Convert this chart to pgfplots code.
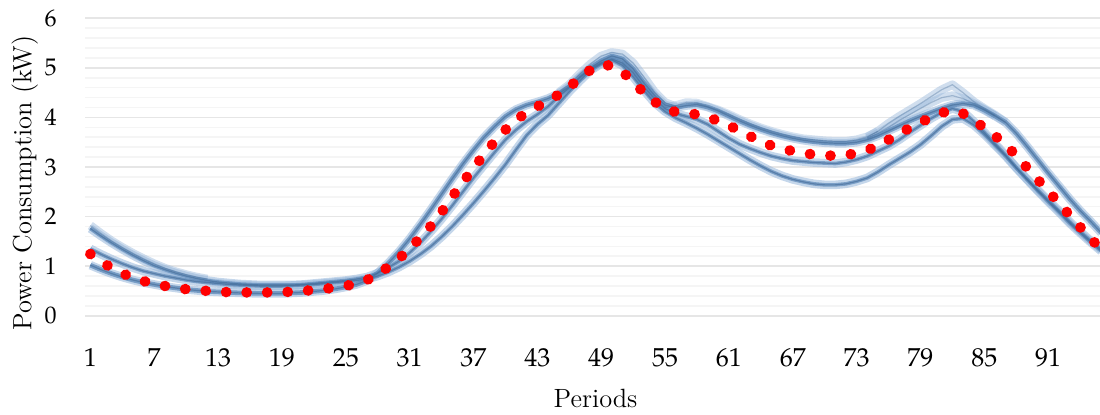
\documentclass[border=0pt]{standalone}
\usepackage{mathpazo}
\usepackage{pgfplots}
\usepackage{pgfplotstable}
\pgfplotsset{compat=1.18}
\usetikzlibrary{calc}
\definecolor{bandlight}{RGB}{150,182,218}
\definecolor{bandmid}{RGB}{92,136,184}
\definecolor{banddark}{RGB}{66,106,150}
\definecolor{gridmaj}{RGB}{214,214,214}
\definecolor{gridmin}{RGB}{238,238,238}

\pgfplotstableread{
p b1 b2 b3 red
1 1.02 1.76 1.35 1.245
2 0.93 1.61 1.24 1.10
3 0.85 1.47 1.14 0.96
4 0.78 1.34 1.05 0.855
5 0.72 1.22 0.97 0.77
6 0.67 1.11 0.90 0.70
7 0.63 1.01 0.85 0.64
8 0.59 0.93 0.80 0.60
9 0.56 0.86 0.76 0.565
10 0.53 0.80 0.72 0.535
11 0.51 0.75 0.69 0.515
12 0.49 0.71 0.67 0.50
13 0.48 0.68 0.65 0.485
14 0.47 0.66 0.63 0.475
15 0.46 0.64 0.62 0.47
16 0.455 0.63 0.61 0.47
17 0.45 0.62 0.60 0.47
18 0.45 0.62 0.60 0.47
19 0.45 0.62 0.60 0.475
20 0.46 0.62 0.61 0.485
21 0.47 0.63 0.62 0.50
22 0.49 0.65 0.63 0.52
23 0.51 0.67 0.65 0.54
24 0.54 0.69 0.67 0.57
25 0.58 0.71 0.69 0.60
26 0.63 0.74 0.71 0.65
27 0.71 0.78 0.74 0.72
28 0.86 0.86 0.80 0.84
29 1.06 0.97 0.88 0.985
30 1.29 1.10 0.98 1.15
31 1.55 1.27 1.10 1.35
32 1.84 1.47 1.24 1.575
33 2.14 1.70 1.40 1.81
34 2.45 1.95 1.59 2.09
35 2.76 2.22 1.80 2.40
36 3.06 2.50 2.03 2.69
37 3.34 2.78 2.27 2.98
38 3.60 3.04 2.52 3.25
39 3.82 3.30 2.78 3.52
40 4.02 3.55 3.05 3.75
41 4.16 3.75 3.35 3.95
42 4.25 3.92 3.64 4.10
43 4.31 4.06 3.86 4.22
44 4.38 4.22 4.04 4.33
45 4.48 4.42 4.28 4.46
46 4.62 4.60 4.52 4.61
47 4.82 4.80 4.74 4.80
48 5.00 4.98 4.95 4.96
49 5.14 5.10 5.08 5.07
50 5.24 5.18 5.16 5.04
51 5.18 5.10 5.05 4.92
52 4.98 4.90 4.82 4.72
53 4.70 4.62 4.55 4.50
54 4.45 4.38 4.30 4.32
55 4.25 4.18 4.12 4.18
56 4.20 4.08 3.99 4.11
57 4.24 4.02 3.89 4.09
58 4.26 3.96 3.78 4.06
59 4.21 3.86 3.66 4.01
60 4.13 3.72 3.53 3.93
61 4.03 3.58 3.40 3.84
62 3.93 3.46 3.27 3.73
63 3.84 3.37 3.14 3.62
64 3.76 3.29 3.02 3.52
65 3.69 3.22 2.91 3.43
66 3.63 3.17 2.82 3.37
67 3.58 3.13 2.75 3.32
68 3.54 3.11 2.70 3.28
69 3.51 3.09 2.66 3.25
70 3.49 3.08 2.64 3.23
71 3.48 3.07 2.64 3.23
72 3.48 3.10 2.66 3.24
73 3.50 3.15 2.71 3.28
74 3.55 3.22 2.78 3.34
75 3.63 3.32 2.90 3.43
76 3.73 3.42 3.04 3.55
77 3.83 3.55 3.17 3.67
78 3.93 3.70 3.30 3.79
79 4.02 3.84 3.45 3.90
80 4.10 3.98 3.63 4.00
81 4.18 4.10 3.82 4.09
82 4.25 4.18 3.96 4.15
83 4.28 4.12 3.98 4.08
84 4.25 3.92 3.85 3.93
85 4.15 3.70 3.66 3.80
86 4.03 3.47 3.44 3.63
87 3.90 3.24 3.22 3.45
88 3.68 2.99 2.98 3.23
89 3.42 2.76 2.75 2.99
90 3.15 2.54 2.52 2.75
91 2.88 2.33 2.30 2.51
92 2.62 2.12 2.09 2.28
93 2.36 1.90 1.87 2.03
94 2.12 1.70 1.67 1.79
95 1.90 1.51 1.48 1.56
96 1.67 1.33 1.30 1.33
}\data

\pgfplotstableread{
p y
74 3.60
75 3.72
76 3.88
77 4.02
78 4.15
79 4.28
80 4.42
81 4.56
82 4.66
83 4.50
84 4.32
85 4.18
86 4.05
87 3.90
}\highA

\pgfplotstableread{
p y
74 3.57
75 3.68
76 3.80
77 3.94
78 4.06
79 4.18
80 4.30
81 4.40
82 4.44
83 4.38
84 4.28
85 4.16
86 4.03
}\highB

\pgfplotstableread{
p y
45 4.50
46 4.66
47 4.88
48 5.08
49 5.24
50 5.31
51 5.28
52 5.10
53 4.82
54 4.52
55 4.30
56 4.22
}\peakA

\pgfplotstableread{
p y
1 1.82
2 1.66
3 1.51
4 1.38
5 1.26
6 1.15
7 1.05
8 0.96
9 0.89
10 0.83
11 0.78
12 0.74
}\startA

\pgfplotstableread{
p y
55 4.20
56 4.24
57 4.30
58 4.29
59 4.22
60 4.15
61 4.06
62 3.96
63 3.87
64 3.79
65 3.72
66 3.66
67 3.61
68 3.57
69 3.55
70 3.53
71 3.52
72 3.52
73 3.55
74 3.61
75 3.72
}\midA

\begin{document}
\begin{tikzpicture}
\pgfplotsset{
  band/.style={line width=4.3pt, color=bandlight, opacity=0.55, line join=round},
  core/.style={line width=1.8pt, color=bandmid, opacity=0.7, line join=round},
  thin/.style={line width=0.6pt, color=banddark, opacity=0.6, line join=round},
}
\begin{axis}[
  scale only axis,
  width=507.5pt, height=148.7pt,
  xmin=0.5, xmax=95.87, ymin=0, ymax=6,
  xtick={1,7,...,91},
  ytick={0,1,...,6},
  minor y tick num=4,
  ymajorgrids, yminorgrids,
  major grid style={draw=gridmaj, line width=0.9pt},
  minor grid style={draw=gridmin, line width=0.8pt},
  axis line style={draw=none},
  major tick length=0pt, minor tick length=0pt,
  no markers,
  xticklabel style={font=\fontsize{13}{15}\selectfont, anchor=base, yshift=-25.2pt},
  yticklabel style={font=\fontsize{12}{14}\selectfont, anchor=east, inner sep=0pt, xshift=-14pt},
  xlabel={Periods},
  ylabel={Power Consumption (kW)},
  every axis x label/.style={at={($(rel axis cs:0.503,0)+(0,-45.65pt)$)}, anchor=base, font=\fontsize{13.2}{15}\selectfont},
  every axis y label/.style={at={($(rel axis cs:0,0.446)+(-26.75pt,0)$)}, anchor=base, rotate=90, font=\fontsize{13.2}{15}\selectfont},
]
% light wide bands
\addplot[band] table[x=p,y=b3]{\data};
\addplot[band] table[x=p,y=b2]{\data};
\addplot[band] table[x=p,y=b1]{\data};
\addplot[band, opacity=0.45] table[x=p,y=y]{\highA};
\addplot[band, opacity=0.45] table[x=p,y=y]{\highB};
\addplot[band, opacity=0.45] table[x=p,y=y]{\peakA};
\addplot[band, opacity=0.45] table[x=p,y=y]{\startA};
\addplot[band, opacity=0.4] table[x=p,y=y]{\midA};
% cores
\addplot[core] table[x=p,y=b3]{\data};
\addplot[core] table[x=p,y=b2]{\data};
\addplot[core, line width=2.3pt, opacity=0.75] table[x=p,y=b1]{\data};
\addplot[thin] table[x=p,y=b3]{\data};
\addplot[thin] table[x=p,y=b2]{\data};
\addplot[thin] table[x=p,y=b1]{\data};
\addplot[thin, opacity=0.35] table[x=p,y=y]{\highA};
\addplot[thin, opacity=0.35] table[x=p,y=y]{\highB};
\addplot[thin, opacity=0.35] table[x=p,y=y]{\peakA};
\addplot[thin, opacity=0.35] table[x=p,y=y]{\startA};
\addplot[thin, opacity=0.35] table[x=p,y=y]{\midA};
% mean: round-dot red line
\addplot[color=red, line width=5.3pt, line cap=round, dash pattern=on 0.1pt off 10.15pt] table[x=p,y=red]{\data};
\end{axis}
\pgfresetboundingbox
\path ($(current axis.south west)+(-42.5pt,-49.15pt)$) rectangle ($(current axis.north east)+(0pt,9.15pt)$);
\end{tikzpicture}
\end{document}
